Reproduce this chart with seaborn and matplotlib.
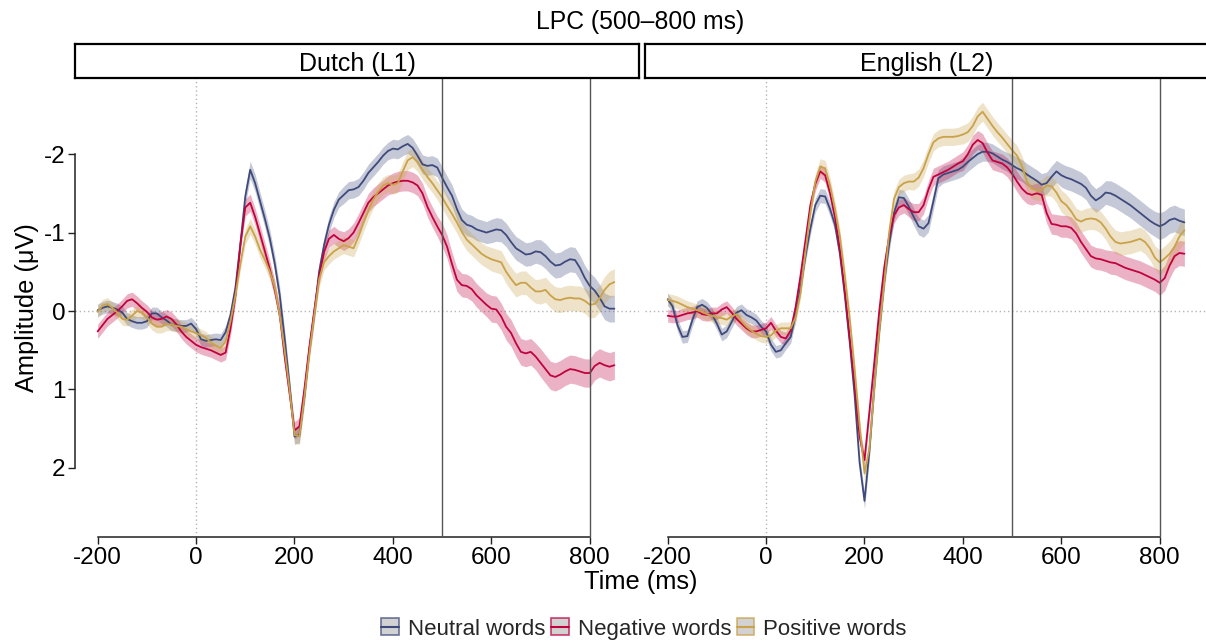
import numpy as np
import pandas as pd
import matplotlib
matplotlib.use("Agg")
import matplotlib.pyplot as plt
import seaborn as sns
from matplotlib.patches import Patch
from matplotlib.lines import Line2D

# ---------------- data ----------------
time_ms = list(range(-200, 851, 10))
conditions = ["Neutral words", "Negative words", "Positive words"]
languages = ["Dutch (L1)", "English (L2)"]
title_text = "LPC (500\u2013800 ms)"
x_ticks = [-200, 0, 200, 400, 600, 800]
y_ticks = [-2, -1, 0, 1, 2]
window_ms = [500, 800]

nl_neutral = [
    -0.01, -0.04, -0.06, -0.04, -0.02, 0.02, 0.10, 0.13, 0.15, 0.15,
    0.13, 0.03, 0.03, 0.08, 0.12, 0.17, 0.18, 0.19, 0.19, 0.16,
    0.23, 0.36, 0.38, 0.37, 0.36, 0.37, 0.27, 0.05, -0.30, -0.85,
    -1.46, -1.80, -1.63, -1.40, -1.17, -0.92, -0.60, -0.20, 0.35, 0.95,
    1.60, 1.58, 1.10, 0.50, 0.04, -0.50, -0.84, -1.10, -1.29, -1.42,
    -1.48, -1.54, -1.55, -1.58, -1.66, -1.76, -1.83, -1.90, -1.98, -2.04,
    -2.07, -2.06, -2.10, -2.13, -2.08, -1.98, -1.87, -1.85, -1.86, -1.83,
    -1.70, -1.58, -1.47, -1.30, -1.16, -1.10, -1.08, -1.04, -1.02, -1.00,
    -1.02, -1.04, -1.03, -0.97, -0.88, -0.80, -0.76, -0.72, -0.73, -0.76,
    -0.75, -0.70, -0.63, -0.58, -0.59, -0.63, -0.66, -0.65, -0.55, -0.42,
    -0.32, -0.26, -0.17, -0.06, -0.03, -0.03]
nl_negative = [
    0.26, 0.18, 0.10, 0.05, 0.00, -0.06, -0.13, -0.15, -0.10, -0.04,
    0.01, 0.08, 0.11, 0.10, 0.07, 0.10, 0.17, 0.26, 0.33, 0.38,
    0.43, 0.46, 0.48, 0.50, 0.53, 0.56, 0.53, 0.22, -0.20, -0.85,
    -1.32, -1.38, -1.20, -0.98, -0.76, -0.53, -0.27, 0.05, 0.58, 1.05,
    1.52, 1.47, 1.00, 0.47, 0.00, -0.45, -0.75, -0.92, -0.97, -0.92,
    -0.89, -0.93, -1.00, -1.12, -1.25, -1.38, -1.45, -1.50, -1.55, -1.60,
    -1.63, -1.65, -1.66, -1.66, -1.64, -1.60, -1.50, -1.33, -1.20, -1.08,
    -0.97, -0.82, -0.60, -0.40, -0.33, -0.32, -0.28, -0.20, -0.14, -0.08,
    -0.03, -0.02, 0.07, 0.20, 0.28, 0.41, 0.52, 0.54, 0.52, 0.58,
    0.66, 0.74, 0.82, 0.84, 0.81, 0.77, 0.74, 0.75, 0.77, 0.79,
    0.79, 0.70, 0.66, 0.69, 0.71, 0.69]
nl_positive = [
    0.01, -0.07, -0.09, -0.04, 0.02, 0.10, 0.11, 0.06, 0.00, 0.02,
    0.08, 0.16, 0.20, 0.20, 0.17, 0.17, 0.19, 0.20, 0.23, 0.26,
    0.28, 0.31, 0.34, 0.40, 0.44, 0.47, 0.39, 0.13, -0.20, -0.60,
    -0.95, -1.08, -0.95, -0.78, -0.65, -0.50, -0.30, 0.05, 0.50, 1.00,
    1.58, 1.60, 1.10, 0.55, 0.06, -0.40, -0.62, -0.70, -0.76, -0.80,
    -0.84, -0.82, -0.80, -0.95, -1.12, -1.28, -1.42, -1.52, -1.60, -1.63,
    -1.61, -1.63, -1.78, -1.92, -1.96, -1.90, -1.80, -1.71, -1.63, -1.54,
    -1.45, -1.34, -1.24, -1.13, -1.01, -0.91, -0.85, -0.79, -0.73, -0.69,
    -0.66, -0.64, -0.62, -0.50, -0.41, -0.33, -0.36, -0.36, -0.30, -0.25,
    -0.25, -0.27, -0.20, -0.15, -0.14, -0.16, -0.17, -0.16, -0.16, -0.13,
    -0.08, -0.09, -0.16, -0.27, -0.34, -0.37]
en_neutral = [
    -0.15, -0.06, 0.18, 0.33, 0.32, 0.12, -0.05, -0.08, -0.04, 0.04,
    0.16, 0.30, 0.26, 0.14, 0.02, -0.01, 0.05, 0.08, 0.12, 0.20,
    0.26, 0.43, 0.52, 0.50, 0.41, 0.33, 0.05, -0.30, -0.70, -1.05,
    -1.35, -1.47, -1.46, -1.30, -1.10, -0.73, -0.20, 0.40, 1.08, 1.93,
    2.42, 1.78, 0.95, 0.25, -0.37, -0.85, -1.25, -1.45, -1.44, -1.33,
    -1.20, -1.08, -1.05, -1.12, -1.40, -1.69, -1.74, -1.76, -1.78, -1.80,
    -1.84, -1.90, -1.95, -2.00, -2.03, -2.03, -2.01, -1.97, -1.93, -1.90,
    -1.86, -1.82, -1.79, -1.74, -1.70, -1.66, -1.61, -1.63, -1.71, -1.78,
    -1.73, -1.70, -1.68, -1.65, -1.62, -1.57, -1.47, -1.41, -1.45, -1.51,
    -1.50, -1.47, -1.43, -1.39, -1.35, -1.30, -1.25, -1.20, -1.15, -1.11,
    -1.08, -1.11, -1.16, -1.18, -1.15, -1.13]
en_negative = [
    0.06, 0.07, 0.07, 0.05, 0.03, 0.02, 0.00, 0.04, 0.05, 0.03,
    0.03, -0.02, -0.05, 0.02, 0.10, 0.16, 0.22, 0.26, 0.26, 0.24,
    0.22, 0.15, 0.25, 0.33, 0.35, 0.25, -0.05, -0.45, -0.90, -1.35,
    -1.62, -1.78, -1.73, -1.50, -1.20, -0.78, -0.25, 0.35, 0.95, 1.60,
    1.90, 1.28, 0.65, 0.00, -0.55, -0.95, -1.22, -1.32, -1.35, -1.30,
    -1.26, -1.26, -1.35, -1.55, -1.71, -1.74, -1.77, -1.80, -1.84, -1.88,
    -1.91, -2.00, -2.12, -2.18, -2.14, -2.02, -1.92, -1.90, -1.88, -1.83,
    -1.75, -1.65, -1.56, -1.50, -1.48, -1.50, -1.48, -1.25, -1.11, -1.10,
    -1.08, -1.08, -1.06, -0.99, -0.88, -0.79, -0.70, -0.67, -0.66, -0.64,
    -0.62, -0.61, -0.58, -0.55, -0.53, -0.51, -0.49, -0.46, -0.43, -0.40,
    -0.36, -0.42, -0.58, -0.70, -0.74, -0.73]
en_positive = [
    -0.14, -0.13, -0.11, -0.08, -0.05, -0.03, -0.01, 0.01, 0.04, 0.06,
    0.08, 0.09, 0.11, 0.07, 0.04, 0.13, 0.20, 0.25, 0.29, 0.32,
    0.33, 0.31, 0.25, 0.22, 0.22, 0.22, 0.08, -0.23, -0.75, -1.25,
    -1.65, -1.84, -1.82, -1.60, -1.30, -0.95, -0.45, 0.10, 0.75, 1.45,
    2.07, 1.75, 0.98, 0.25, -0.35, -1.00, -1.43, -1.58, -1.63, -1.65,
    -1.65, -1.70, -1.82, -2.00, -2.15, -2.20, -2.22, -2.22, -2.22, -2.23,
    -2.25, -2.28, -2.36, -2.48, -2.54, -2.45, -2.36, -2.28, -2.21, -2.13,
    -2.05, -1.98, -1.85, -1.65, -1.56, -1.54, -1.54, -1.60, -1.59, -1.51,
    -1.40, -1.35, -1.27, -1.17, -1.14, -1.17, -1.18, -1.17, -1.13, -1.05,
    -0.95, -0.88, -0.86, -0.87, -0.88, -0.90, -0.92, -0.88, -0.80, -0.68,
    -0.62, -0.67, -0.73, -0.82, -0.95, -1.03]

# standard error per 100-ms bin (-200, -100, ..., 800)
nl_neutral_se = [0.08, 0.08, 0.08, 0.11, 0.10, 0.11, 0.12, 0.14, 0.15, 0.16, 0.17]
nl_negative_se = [0.09, 0.09, 0.09, 0.11, 0.11, 0.12, 0.13, 0.15, 0.17, 0.18, 0.18]
nl_positive_se = [0.08, 0.08, 0.08, 0.10, 0.10, 0.11, 0.12, 0.14, 0.15, 0.16, 0.17]
en_neutral_se = [0.08, 0.08, 0.08, 0.09, 0.10, 0.11, 0.12, 0.14, 0.15, 0.16, 0.17]
en_negative_se = [0.08, 0.08, 0.08, 0.09, 0.10, 0.11, 0.12, 0.13, 0.14, 0.15, 0.16]
en_positive_se = [0.08, 0.08, 0.08, 0.10, 0.10, 0.11, 0.12, 0.13, 0.14, 0.15, 0.16]

colors = {"Neutral words": "#3F4A7C", "Negative words": "#C0033F", "Positive words": "#C9A24A"}

series = {
    ("Dutch (L1)", "Neutral words"): (nl_neutral, nl_neutral_se),
    ("Dutch (L1)", "Negative words"): (nl_negative, nl_negative_se),
    ("Dutch (L1)", "Positive words"): (nl_positive, nl_positive_se),
    ("English (L2)", "Neutral words"): (en_neutral, en_neutral_se),
    ("English (L2)", "Negative words"): (en_negative, en_negative_se),
    ("English (L2)", "Positive words"): (en_positive, en_positive_se),
}

rows = []
for (lang, cond), (vals, se_bins) in series.items():
    se_full = np.repeat(se_bins, 10)[:len(time_ms)]
    for t, v, s in zip(time_ms, vals, se_full):
        rows.append({"language": lang, "condition": cond, "time": t,
                     "amplitude": v, "se": s})
df = pd.DataFrame(rows)

# ---------------- style ----------------
sns.set_style("white")
plt.rcParams["font.family"] = ["Liberation Sans", "DejaVu Sans"]
plt.rcParams["axes.unicode_minus"] = False

W, H = 1206, 643
fig = plt.figure(figsize=(W / 100, H / 100), dpi=100)

def fx(px):
    return px / W

def fy(py):
    return 1 - py / H

panel_top, panel_bot = 78, 537
panel_lefts = [75, 645]
panel_w = 564
strip_top = 44

XLIM = (-246, 900)
YLIM = (2.88, -2.97)

TICK_FS = 17.5
for i, lang in enumerate(languages):
    left = panel_lefts[i]
    ax = fig.add_axes([fx(left), fy(panel_bot), panel_w / W, (panel_bot - panel_top) / H])
    sub = df[df["language"] == lang]

    # ribbons
    for cond in conditions:
        d = sub[sub["condition"] == cond]
        ax.fill_between(d["time"], d["amplitude"] - d["se"], d["amplitude"] + d["se"],
                        color=colors[cond], alpha=0.3, linewidth=0, zorder=2)
    # reference lines
    ax.axhline(0, color="#b5b5b5", linestyle=(0, (1, 2)), linewidth=1.0, zorder=1)
    ax.axvline(0, color="#b5b5b5", linestyle=(0, (1, 2)), linewidth=1.0, zorder=1)
    for w in window_ms:
        ax.axvline(w, color="#555555", linewidth=1.0, zorder=4)

    sns.lineplot(data=sub, x="time", y="amplitude", hue="condition",
                 hue_order=conditions, palette=colors, errorbar=None,
                 linewidth=1.3, legend=False, ax=ax, zorder=3)

    ax.set_xlim(*XLIM)
    ax.set_ylim(*YLIM)
    ax.set_xlabel("")
    ax.set_ylabel("")
    ax.set_xticks(x_ticks)
    ax.set_xticklabels([str(t) for t in x_ticks])
    ax.patch.set_alpha(0)
    for s in ["top", "right"]:
        ax.spines[s].set_visible(False)
    ax.spines["bottom"].set_bounds(x_ticks[0], x_ticks[-1])
    ax.spines["bottom"].set_color("#222222")
    ax.spines["bottom"].set_linewidth(1.1)
    ax.tick_params(axis="x", length=5, width=1, pad=2, labelsize=TICK_FS,
                   colors="#222222", labelcolor="black", bottom=True)
    if i == 0:
        ax.set_yticks(y_ticks)
        ax.set_yticklabels([str(v) for v in y_ticks])
        ax.spines["left"].set_bounds(y_ticks[0], y_ticks[-1])
        ax.spines["left"].set_color("#222222")
        ax.spines["left"].set_linewidth(1.1)
        ax.tick_params(axis="y", length=5, width=1, pad=2, labelsize=TICK_FS,
                       colors="#222222", labelcolor="black", left=True)
    else:
        ax.spines["left"].set_visible(False)
        ax.tick_params(axis="y", left=False, labelleft=False)
    ax.grid(False)

    # facet strip
    sax = fig.add_axes([fx(left), fy(panel_top), panel_w / W, (panel_top - strip_top) / H])
    sax.set_xticks([])
    sax.set_yticks([])
    sax.set_facecolor("white")
    for s in sax.spines.values():
        s.set_visible(True)
        s.set_color("black")
        s.set_linewidth(1.6)
    sax.text(0.5, 0.42, lang, ha="center", va="center", fontsize=18, color="black",
             transform=sax.transAxes)

fig.text(fx(640), fy(22), title_text, ha="center", va="center", fontsize=17.8, color="black")
fig.text(fx(641), fy(582), "Time (ms)", ha="center", va="center", fontsize=18.3, color="black")
fig.text(fx(27), fy(308), "Amplitude (\u03bcV)", ha="center", va="center", rotation=90,
         fontsize=18.3, color="black")

handles = [(Patch(facecolor="#c4c4c4", edgecolor=colors[c], alpha=0.75, linewidth=1.2),
            Line2D([], [], color=colors[c], linewidth=1.5)) for c in conditions]
fig.legend(handles, conditions, loc="center", bbox_to_anchor=(fx(644), fy(629)),
           ncol=3, frameon=False, fontsize=16, handlelength=0.8, handleheight=0.8,
           handletextpad=0.4, columnspacing=0.25, borderpad=0)

fig.savefig("out.png", dpi=100)
